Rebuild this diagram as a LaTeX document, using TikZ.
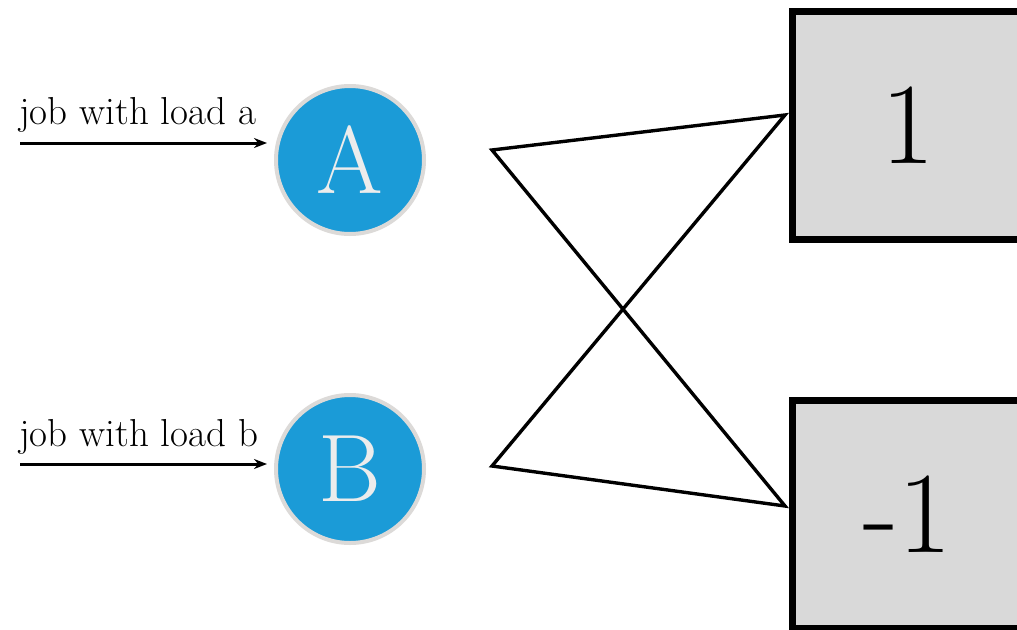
\documentclass[tikz,border=0pt]{standalone}
\usepackage{fontspec}
\usetikzlibrary{arrows.meta}
\definecolor{circblue}{HTML}{1B9BD7}
\definecolor{circrim}{HTML}{DCDAD8}
\definecolor{boxgrey}{HTML}{D9D9D9}
\definecolor{lettercol}{HTML}{ECECEC}
\tikzset{
  jobcirc/.style={circle, fill=circblue, draw=circrim, line width=4pt, minimum size=148pt, inner sep=0pt,
    text=lettercol, font=\fontsize{96}{100}\selectfont},
  valbox/.style={rectangle, fill=boxgrey, draw=black, line width=7pt, minimum width=232pt, minimum height=228pt,
    inner sep=0pt, font=\fontsize{116}{120}\selectfont},
  joblabel/.style={anchor=base west, inner sep=0pt, font=\fontsize{39}{44}\selectfont},
  jobarrow/.style={line width=3pt, -{Stealth[length=13pt,width=10pt]}},
  wire/.style={line width=3.4pt, line join=miter}
}
\begin{document}
\begin{tikzpicture}[x=1pt,y=-1pt]
\useasboundingbox (0,0) rectangle (1017,629);
\clip (0,0) rectangle (1017,629);
\fill[white] (0,0) rectangle (1017,629);
% circles
\node[jobcirc] (A) at (350,160) {A};
\node[jobcirc] (B) at (350,469) {B};
% boxes
\node[valbox] (one) at (908,125) {1};
\node[valbox] (mone) at (908,514) {-1};
% input arrows
\coordinate (inA) at (20,143);
\coordinate (inB) at (20,464);
\draw[jobarrow] (inA) -- ++(247,0) coordinate (tipA);
\draw[jobarrow] (inB) -- ++(247,0) coordinate (tipB);
\node[joblabel] (la) at (19,124) {job with load a};
\node[joblabel] (lb) at (19,446) {job with load b};
% connector vertices
\coordinate (pA) at (492,150);
\coordinate (pB) at (492,466);
\coordinate (q1) at (785,115);
\coordinate (q2) at (785,506);
\draw[wire] (q1) -- (pA) -- (q2) -- (pB) -- cycle;
\end{tikzpicture}
\end{document}
